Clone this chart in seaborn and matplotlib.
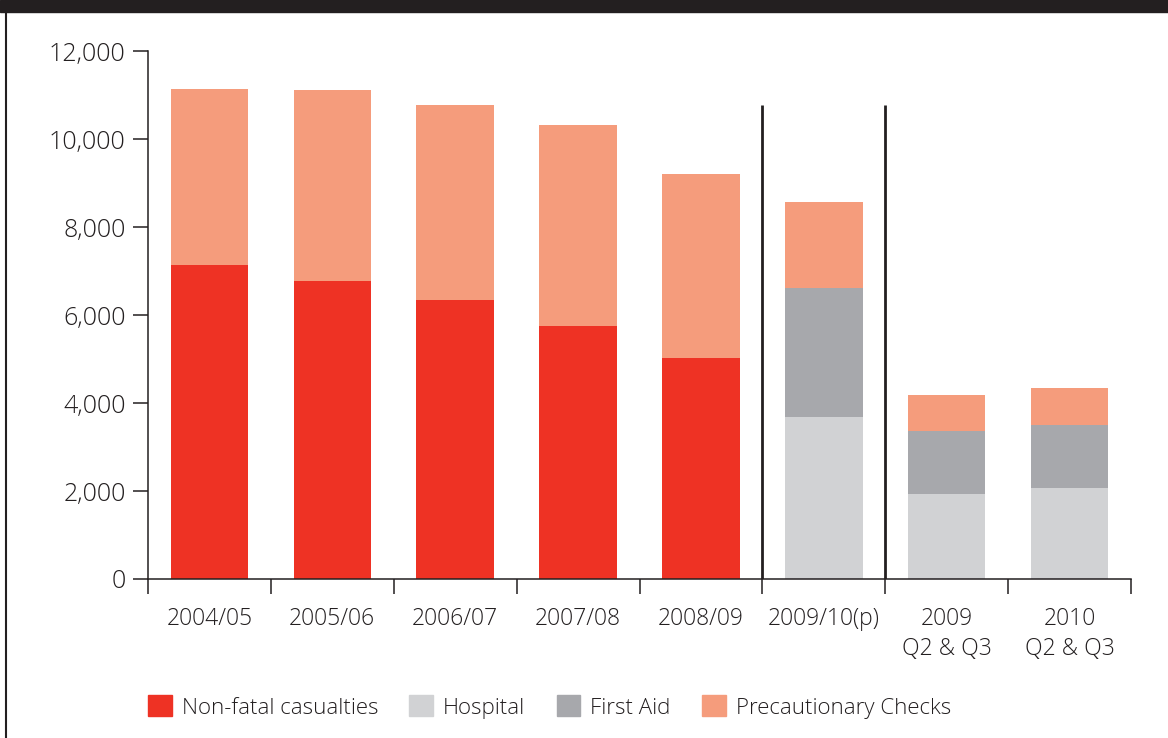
import pandas as pd
import matplotlib.pyplot as plt
import seaborn as sns
from matplotlib.patches import Rectangle
from matplotlib.lines import Line2D

periods = ["2004/05", "2005/06", "2006/07", "2007/08", "2008/09",
           "2009/10(p)", "2009\nQ2 & Q3", "2010\nQ2 & Q3"]
non_fatal = [7140, 6770, 6340, 5750, 5020, 0, 0, 0]
hospital = [0, 0, 0, 0, 0, 3680, 1930, 2070]
first_aid = [0, 0, 0, 0, 0, 2930, 1430, 1430]
precaution = [4000, 4340, 4430, 4570, 4180, 1960, 820, 840]
y_ticks = [0, 2000, 4000, 6000, 8000, 10000, 12000]
separators = [4.5, 5.5]
separator_top = 10770

RED = "#EE3224"
LIGHT = "#D1D2D4"
DARK = "#A7A8AC"
SALMON = "#F59C7C"
TEXT = "#231F20"

df = pd.DataFrame({"period": periods, "non_fatal": non_fatal, "hospital": hospital,
                   "first_aid": first_aid, "precaution": precaution})
df["c_red"] = df["non_fatal"]
df["c_hosp"] = df["c_red"] + df["hospital"]
df["c_fa"] = df["c_hosp"] + df["first_aid"]
df["c_total"] = df["c_fa"] + df["precaution"]

plt.rcParams["font.family"] = ["Open Sans", "DejaVu Sans"]
plt.rcParams["text.color"] = TEXT

fig = plt.figure(figsize=(11.68, 7.38), dpi=100)
ax = fig.add_axes([148 / 1168, 1 - 579 / 738, (1131 - 148) / 1168, (579 - 51) / 738])

# draw layered cumulative bars, top layer first
for col, colour in [("c_total", SALMON), ("c_fa", DARK), ("c_hosp", LIGHT), ("c_red", RED)]:
    sns.barplot(data=df, x="period", y=col, order=periods, color=colour,
                width=0.63, linewidth=0, saturation=1, ax=ax)

for s in separators:
    ax.plot([s, s], [0, separator_top], color=TEXT, lw=2, solid_capstyle="butt", zorder=5)

ax.set_xlim(-0.5, len(periods) - 0.5)
ax.set_ylim(0, 12000)
ax.set_xlabel("")
ax.set_ylabel("")
ax.set_yticks(y_ticks)
ax.set_yticklabels([f"{v:,}" for v in y_ticks])
ax.set_xticks([i - 0.5 for i in range(len(periods) + 1)])
ax.set_xticklabels([])
ax.set_xticks(range(len(periods)), minor=True)
ax.set_xticklabels(periods, minor=True, fontsize=16.5, color=TEXT, linespacing=1.35,
                   fontweight="light")
ax.tick_params(axis="x", which="minor", length=0, pad=20)
ax.tick_params(axis="x", which="major", length=11, width=1.1, color=TEXT, direction="out")
ax.tick_params(axis="y", length=11, width=1.1, color=TEXT, direction="out",
               labelsize=18, labelcolor=TEXT, pad=5)
for lbl in ax.get_yticklabels():
    lbl.set_fontweight("light")
for side in ["top", "right"]:
    ax.spines[side].set_visible(False)
for side in ["left", "bottom"]:
    ax.spines[side].set_color(TEXT)
    ax.spines[side].set_linewidth(1.1)

handles = [Rectangle((0, 0), 1, 1, color=c) for c in [RED, LIGHT, DARK, SALMON]]
labels = ["Non-fatal casualties", "Hospital", "First Aid", "Precautionary Checks"]
fig.legend(handles, labels, loc="center left", bbox_to_anchor=(148 / 1168, 1 - 707 / 738),
           ncol=4, frameon=False, prop={"size": 16, "weight": "light"},
           handlelength=1.07, handleheight=1.07, handletextpad=0.45, columnspacing=1.4,
           borderpad=0, borderaxespad=0)

# page furniture: dark header band and left border
fig.patches.append(Rectangle((0, 1 - 12 / 738), 1, 12 / 738, transform=fig.transFigure,
                             color=TEXT, zorder=0))
fig.lines.append(Line2D([6 / 1168, 6 / 1168], [0, 1 - 12 / 738], transform=fig.transFigure,
                        color=TEXT, lw=1.5))

fig.savefig("out.png", dpi=100)
